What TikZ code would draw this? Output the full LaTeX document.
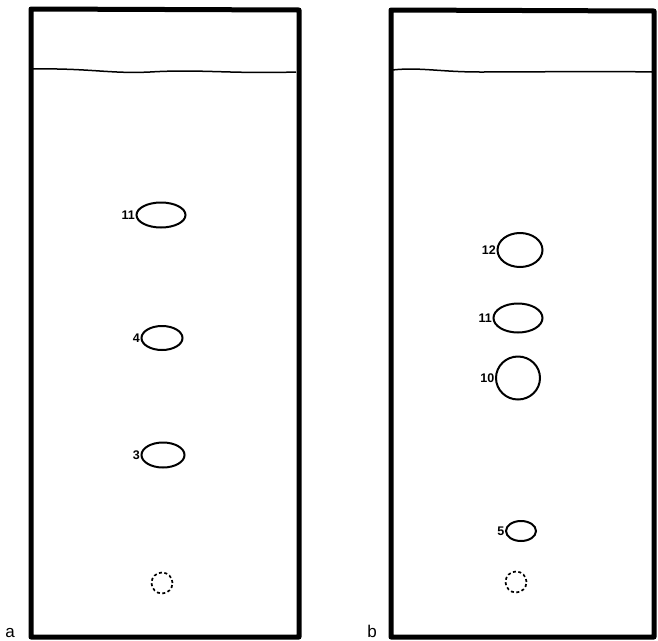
\documentclass[tikz,border=0pt]{standalone}
\usepackage{fontspec}
\setsansfont{Liberation Sans}
\usetikzlibrary{shapes.geometric,positioning}

\begin{document}
\begin{tikzpicture}[x=1pt,y=-1pt,
      plate/.style={line width=5pt, line join=round},
      front/.style={line width=1.5pt},
      spot/.style={ellipse, draw, line width=2pt, inner sep=0pt},
      start/.style={circle, draw, line width=1.7pt, dash pattern=on 3pt off 2.5pt,
                    minimum size=21pt, inner sep=0pt},
      num/.style={font=\sffamily\bfseries\fontsize{12.5}{14}\selectfont, inner sep=0.5pt},
      panel/.style={font=\sffamily\fontsize{17}{20}\selectfont, anchor=base}]
    \useasboundingbox (0,0) rectangle (658,640);

    % plate a
    \draw[plate] (31,9) -- (299,10) -- (299,637) -- (31,637) -- cycle;
    \draw[front] (32,69) .. controls (90,68) and (110,74) .. (150,72)
                 .. controls (200,69) and (230,74) .. (296,72);
    \node[spot, minimum width=49pt, minimum height=25pt] (a11) at (161,215) {};
    \node[spot, minimum width=41pt, minimum height=24pt] (a4)  at (162,338) {};
    \node[spot, minimum width=43pt, minimum height=25pt] (a3)  at (163,455) {};
    \node[start] (a0) at (162,583) {};
    \node[num, left=0pt of a11.west] {11};
    \node[num, left=0pt of a4.west]  {4};
    \node[num, left=0pt of a3.west]  {3};
    \node[panel] (la) at (10,637) {a};

    % plate b
    \draw[plate] (391,10) -- (654,11) -- (654,637) -- (391,637) -- cycle;
    \draw[front] (392,70) .. controls (420,67) and (440,72) .. (480,72)
                 .. controls (540,72) and (600,71) .. (652,72);
    \node[spot, minimum width=45pt, minimum height=34pt] (b12) at (520,250) {};
    \node[spot, minimum width=49pt, minimum height=29pt] (b11) at (518,318) {};
    \node[spot, minimum width=44pt, minimum height=43pt] (b10) at (518,378) {};
    \node[spot, minimum width=30pt, minimum height=20pt] (b5)  at (521,531) {};
    \node[start] (b0) at (516,582) {};
    \node[num, left=0pt of b12.west] {12};
    \node[num, left=0pt of b11.west] {11};
    \node[num, left=0pt of b10.west] {10};
    \node[num, left=0pt of b5.west]  {5};
    \node[panel] (lb) at (372,637) {b};
  \end{tikzpicture}
\end{document}
